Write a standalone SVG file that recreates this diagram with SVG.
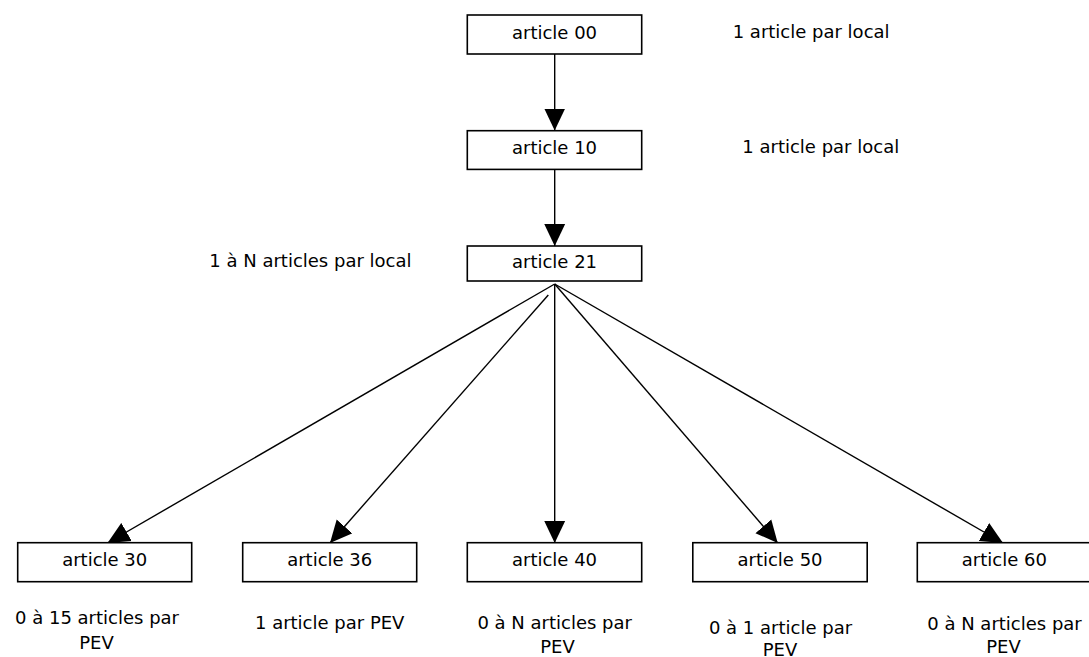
<svg xmlns="http://www.w3.org/2000/svg" width="1089" height="657" viewBox="0 0 1089 657">
<style>
  .box { fill: #fff; stroke: #000; stroke-width: 1.6; }
  .lbl { font-family: "DejaVu Sans", Verdana, sans-serif; font-size: 18px; fill: #000; }
  .mid { text-anchor: middle; }
  .con { stroke: #000; stroke-width: 1.4; fill: none; marker-end: url(#arr); }
</style>
<defs>
  <marker id="arr" markerUnits="userSpaceOnUse" markerWidth="22" markerHeight="22" viewBox="0 -10 20 20" refX="20" refY="0" orient="auto">
    <path d="M0,-9.5 L20,0 L0,9.5 z" fill="#000"/>
  </marker>
</defs>
<rect width="1089" height="657" fill="#fff"/>

<g id="connectors">
  <line class="con" x1="554.7" y1="54" x2="554.7" y2="130.5"/>
  <line class="con" x1="554.7" y1="169.5" x2="554.7" y2="246"/>
  <line class="con" x1="554.7" y1="284" x2="107.5" y2="543"/>
  <line class="con" x1="548.3" y1="295" x2="330" y2="543"/>
  <line class="con" x1="554.7" y1="284" x2="554.7" y2="543"/>
  <line class="con" x1="554.7" y1="284" x2="777.7" y2="543"/>
  <line class="con" x1="554.7" y1="284" x2="1003" y2="543"/>
</g>

<g id="article00">
  <rect class="box" x="467.3" y="15" width="174.4" height="39"/>
  <text class="lbl mid" x="554.5" y="38.5">article 00</text>
</g>
<g id="article10">
  <rect class="box" x="467.3" y="130.7" width="174.4" height="38.7"/>
  <text class="lbl mid" x="554.5" y="153.5">article 10</text>
</g>
<g id="article21">
  <rect class="box" x="467.3" y="246" width="174.4" height="35"/>
  <text class="lbl mid" x="554.5" y="268">article 21</text>
</g>
<g id="article30">
  <rect class="box" x="17.7" y="542.7" width="174" height="39"/>
  <text class="lbl mid" x="104.7" y="565.7">article 30</text>
</g>
<g id="article36">
  <rect class="box" x="242.7" y="542.7" width="174" height="39"/>
  <text class="lbl mid" x="329.7" y="565.7">article 36</text>
</g>
<g id="article40">
  <rect class="box" x="467.3" y="542.7" width="174.4" height="39"/>
  <text class="lbl mid" x="554.5" y="565.7">article 40</text>
</g>
<g id="article50">
  <rect class="box" x="692.8" y="542.7" width="174.4" height="39"/>
  <text class="lbl mid" x="780" y="565.7">article 50</text>
</g>
<g id="article60">
  <rect class="box" x="917.3" y="542.7" width="174.4" height="39"/>
  <text class="lbl mid" x="1004.3" y="565.7">article 60</text>
</g>

<g id="labels">
  <text class="lbl" x="732.7" y="37.5">1 article par local</text>
  <text class="lbl" x="742.3" y="152.5">1 article par local</text>
  <text class="lbl" x="209.3" y="266.8">1 à N articles par local</text>
  <text class="lbl mid" x="97" y="624">0 à 15 articles par</text>
  <text class="lbl mid" x="96.5" y="649">PEV</text>
  <text class="lbl mid" x="329.7" y="629">1 article par PEV</text>
  <text class="lbl mid" x="554.7" y="629">0 à N articles par</text>
  <text class="lbl mid" x="557.5" y="652.5">PEV</text>
  <text class="lbl mid" x="780.5" y="633.5">0 à 1 article par</text>
  <text class="lbl mid" x="780" y="656">PEV</text>
  <text class="lbl mid" x="1004.5" y="629.5">0 à N articles par</text>
  <text class="lbl mid" x="1003.5" y="652.5">PEV</text>
</g>
</svg>
